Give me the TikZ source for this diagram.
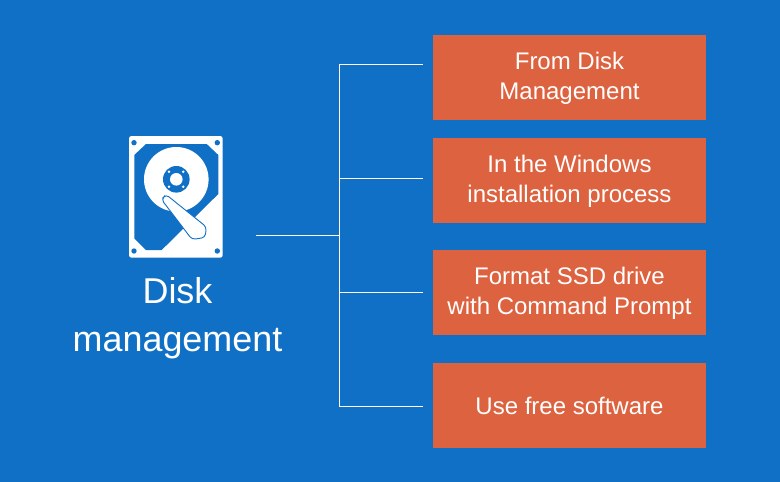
\documentclass[tikz,border=0pt]{standalone}
\usepackage{fontspec}
\setmainfont{Liberation Sans}
\usetikzlibrary{positioning}
\definecolor{bgblue}{HTML}{0F70C5}
\definecolor{boxred}{HTML}{DD6240}
\newcommand{\lift}{\rule{0pt}{18.8pt}}
\tikzset{
  x=1pt,
  y=-1pt,
  node distance=18pt,
  link/.style={draw=white,line width=0.9pt},
  way/.style={rectangle,fill=boxred,text=white,align=center,minimum width=273pt,minimum height=85pt,
    inner sep=0pt,outer sep=0pt,font=\fontsize{24}{30}\selectfont},
  title/.style={text=white,align=center,inner sep=0pt,font=\fontsize{35.9}{48}\selectfont},
  hole/.style={fill=bgblue,circle,inner sep=0pt,minimum size=5.4pt},
  pin/.style={fill=white,circle,inner sep=0pt,minimum size=2.8pt}
}
\begin{document}
\begin{tikzpicture}
  \useasboundingbox (0,0) rectangle (780,482);
  \fill [bgblue] (0,0) rectangle (780,482);

  % drive icon
  \fill [white,rounded corners=2.5pt] (129,136) rectangle (222.7,257.7);
  \fill [bgblue] (146,144) -- (206.7,144) -- (218.3,155) -- (218.3,194) -- (161.7,250) -- (146,250)
    -- (134.3,238.3) -- (134.3,155) -- cycle;
  \foreach \hx/\hy in {134/142.7,217.3/142.7,134/251,217.3/251}
    \node [hole] at (\hx,\hy) {};
  \fill [white] (176.3,179.3) circle (32.3);
  \fill [bgblue] (176.3,179.3) circle (13.3);
  \fill [white] (176.3,179.3) circle (6.3);
  \foreach \hx/\hy in {169/171.7,183.3/171.7,169/186.7,183.3/186.7}
    \node [pin] at (\hx,\hy) {};
  \draw [bgblue,fill=white,line width=0.9pt,rounded corners=3.5pt]
    (161.5,199.5) -- (166,194.5) -- (206.5,227) -- (205,237.5) -- (192,239.5) -- cycle;

  \node [title] (disk) at (177.5,318.5) {Disk\\management};

  \node [way] (disk mgmt) at (569.5,77.5) {\lift From Disk\\Management};
  \node [way,below=18pt of disk mgmt] (windows) {\lift In the Windows\\installation process};
  \node [way,below=27pt of windows] (cmd) {\lift Format SSD drive\\with Command Prompt};
  \node [way,below=28pt of cmd] (free) {Use free software};

  \coordinate (stem) at (256,235.5);
  \coordinate (spine) at (339.5,235.5);
  \coordinate (b1) at (423,64.5);
  \coordinate (b2) at (423,178.5);
  \coordinate (b3) at (423,292.5);
  \coordinate (b4) at (423,406.5);

  \draw [link] (stem) -- (spine);
  \draw [link] (b1) -| (spine);
  \draw [link] (b4) -| (spine);
  \draw [link] (b2) -- (b2 -| spine);
  \draw [link] (b3) -- (b3 -| spine);
\end{tikzpicture}
\end{document}
